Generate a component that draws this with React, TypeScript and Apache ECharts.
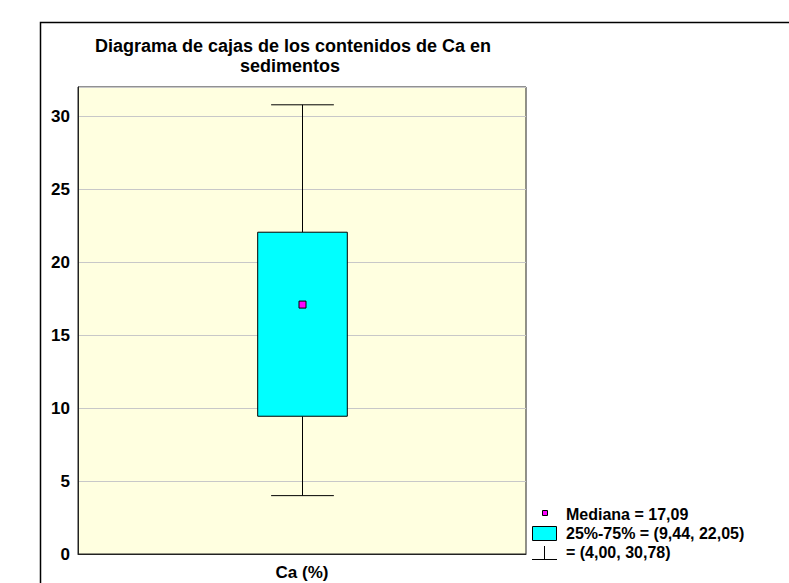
import React, { useEffect, useRef } from "react";
import * as echarts from "echarts";

const categories = ["Ca (%)"];
const minValues = [4.0];
const q1Values = [9.44];
const medianValues = [17.09];
const q3Values = [22.05];
const maxValues = [30.78];
const yTicks = [0, 5, 10, 15, 20, 25, 30];
const titleLines = ["Diagrama de cajas de los contenidos de Ca en", "sedimentos"];

const fmt = (v: number) => v.toFixed(2).replace(".", ",");

export default function App() {
  const ref = useRef<HTMLDivElement>(null);
  useEffect(() => {
    if (!ref.current) return;
    const chart = echarts.init(ref.current, null, { renderer: "svg" });
    const font = "Liberation Sans, Arial, sans-serif";
    const data = categories.map((_, i) => [
      i,
      minValues[i],
      q1Values[i],
      medianValues[i],
      q3Values[i],
      maxValues[i],
    ]);
    const option: any = {
      animation: false,
      backgroundColor: "#ffffff",
      grid: {
        left: 78,
        top: 87,
        width: 448,
        height: 467,
        show: true,
        backgroundColor: "#FFFFE0",
        borderColor: "#222",
        borderWidth: 1,
      },
      xAxis: {
        type: "category",
        data: categories,
        axisTick: { show: false },
        axisLine: { show: true, lineStyle: { color: "#222" } },
        axisLabel: {
          fontFamily: font,
          fontWeight: "bold",
          fontSize: 17,
          color: "#000",
          margin: 10,
        },
      },
      yAxis: {
        type: "value",
        min: 0,
        max: 32,
        interval: 5,
        axisTick: { show: false },
        axisLine: { show: true, lineStyle: { color: "#222" } },
        splitLine: { show: true, lineStyle: { color: "#C8C8C8", width: 1 } },
        axisLabel: {
          fontFamily: font,
          fontWeight: "bold",
          fontSize: 17,
          color: "#000",
          margin: 8,
          formatter: (v: number) => (yTicks.includes(v) ? String(v) : ""),
        },
      },
      series: [
        {
          type: "custom",
          data,
          encode: { x: 0, y: [1, 2, 3, 4, 5] },
          renderItem: (params: any, api: any) => {
            const x = api.value(0);
            const lo = api.coord([x, api.value(1)]);
            const q1 = api.coord([x, api.value(2)]);
            const med = api.coord([x, api.value(3)]);
            const q3 = api.coord([x, api.value(4)]);
            const hi = api.coord([x, api.value(5)]);
            const band = api.size([1, 0])[0];
            const boxW = band * 0.2;
            const capW = band * 0.14;
            const cx = Math.round(lo[0]) + 0.5;
            const lineStyle = { stroke: "#000", lineWidth: 1 };
            return {
              type: "group",
              children: [
                { type: "line", shape: { x1: cx, y1: hi[1], x2: cx, y2: q3[1] }, style: lineStyle },
                { type: "line", shape: { x1: cx, y1: q1[1], x2: cx, y2: lo[1] }, style: lineStyle },
                { type: "line", shape: { x1: cx - capW / 2, y1: hi[1], x2: cx + capW / 2, y2: hi[1] }, style: lineStyle },
                { type: "line", shape: { x1: cx - capW / 2, y1: lo[1], x2: cx + capW / 2, y2: lo[1] }, style: lineStyle },
                {
                  type: "rect",
                  shape: { x: cx - boxW / 2, y: q3[1], width: boxW, height: q1[1] - q3[1] },
                  style: { fill: "#00FFFF", stroke: "#000", lineWidth: 1 },
                },
                {
                  type: "rect",
                  shape: { x: cx - 3.5, y: med[1] - 3.5, width: 7, height: 7 },
                  style: { fill: "#FF00FF", stroke: "#000", lineWidth: 1 },
                },
              ],
            };
          },
        },
      ],
      graphic: [
        {
          type: "rect",
          shape: { x: 40.5, y: 22.5, width: 800, height: 600 },
          style: { fill: "none", stroke: "#000", lineWidth: 1.5 },
          silent: true,
        },
        ...titleLines.map((t, i) => ({
          type: "text",
          x: [293, 290][i],
          y: 46 + i * 20,
          style: {
            text: t,
            fontFamily: font,
            fontWeight: "bold",
            fontSize: 18,
            fill: "#000",
            align: "center",
            verticalAlign: "middle",
          },
        })),
        {
          type: "rect",
          shape: { x: 542.5, y: 510.5, width: 5, height: 5 },
          style: { fill: "#FF00FF", stroke: "#000", lineWidth: 1 },
        },
        {
          type: "rect",
          shape: { x: 532.5, y: 526.5, width: 24, height: 14 },
          style: { fill: "#00FFFF", stroke: "#000", lineWidth: 1 },
        },
        {
          type: "line",
          shape: { x1: 532, y1: 559.5, x2: 557, y2: 559.5 },
          style: { stroke: "#000", lineWidth: 1 },
        },
        {
          type: "line",
          shape: { x1: 544.5, y1: 546, x2: 544.5, y2: 559.5 },
          style: { stroke: "#000", lineWidth: 1 },
        },
        ...[
          `Mediana = ${fmt(medianValues[0])}`,
          `25%-75% = (${fmt(q1Values[0])}, ${fmt(q3Values[0])})`,
          `= (${fmt(minValues[0])}, ${fmt(maxValues[0])})`,
        ].map((t, i) => ({
          type: "text",
          x: 566,
          y: [514, 533, 552][i],
          style: {
            text: t,
            fontFamily: font,
            fontWeight: "bold",
            fontSize: 16,
            fill: "#000",
            align: "left",
            verticalAlign: "middle",
          },
        })),
      ],
    };
    chart.setOption(option);
    return () => chart.dispose();
  }, []);
  return (
    <div
      ref={ref}
      style={{ position: "fixed", left: 0, top: 0, width: 789, height: 583 }}
    />
  );
}
